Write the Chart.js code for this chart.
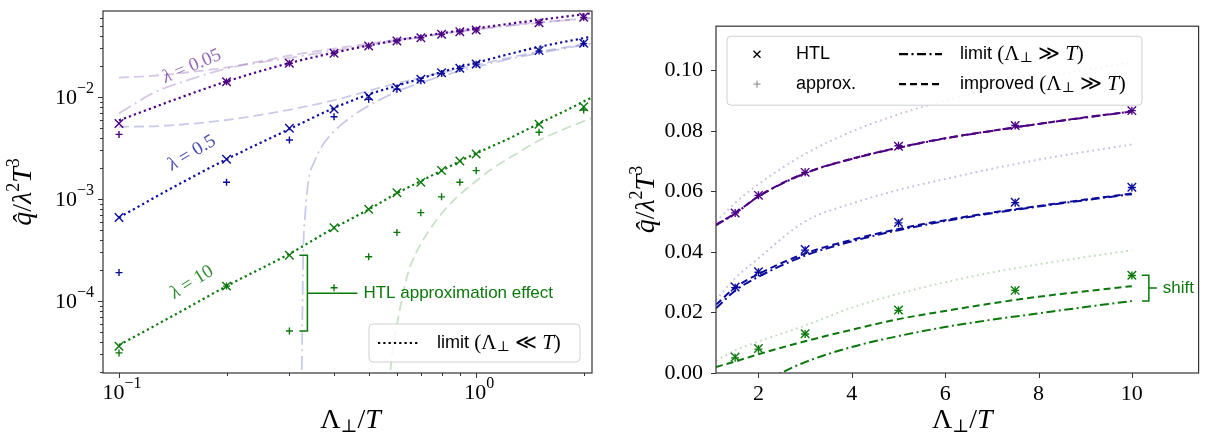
<!DOCTYPE html>
<html lang="en">
<head>
  <meta charset="UTF-8">
  <title>q-hat / lambda^2 T^3 vs cutoff</title>
  <script src="https://cdn.jsdelivr.net/npm/chart.js"></script>
  <style>
    body { margin: 0; background: #fff; }
    .wrap { position: relative; width: 1206px; height: 439px; overflow: hidden; }
    canvas { position: absolute; top: 0; }
    #left { left: 0; }
    #right { left: 600px; }
  </style>
</head>
<body>
  <div class="wrap">
    <canvas id="left" width="600" height="439"></canvas>
    <canvas id="right" width="606" height="439"></canvas>
  </div>

  <script>
    // ---- left panel: small cutoff, log-log ----
    const lowX = [0.1, 0.2, 0.3, 0.4, 0.5, 0.6, 0.7, 0.8, 0.9, 1.0, 1.5, 2.0];
    const lowHtl005 = [0.0055, 0.0141, 0.0214, 0.0268, 0.0316, 0.0354, 0.0381, 0.0412, 0.0437, 0.0454, 0.0535, 0.0604];
    const lowApprox005 = [0.0043, 0.0141, 0.0214, 0.0268, 0.0316, 0.0354, 0.0381, 0.0412, 0.0437, 0.0454, 0.0535, 0.0604];
    const lowHtl05 = [0.00066, 0.00245, 0.00493, 0.00763, 0.0102, 0.0124, 0.0149, 0.0173, 0.0191, 0.0211, 0.0285, 0.0336];
    const lowApprox05 = [0.00019, 0.00146, 0.00379, 0.00641, 0.00949, 0.0119, 0.0144, 0.0170, 0.0190, 0.0210, 0.0283, 0.0334];
    const lowHtl10 = [3.6e-5, 1.40e-4, 2.81e-4, 5.24e-4, 7.93e-4, 1.15e-3, 1.46e-3, 1.90e-3, 2.36e-3, 2.76e-3, 5.40e-3, 8.04e-3];
    const lowApprox10 = [3.1e-5, 1.40e-4, 5.08e-5, 1.35e-4, 2.72e-4, 4.71e-4, 7.35e-4, 1.05e-3, 1.46e-3, 1.90e-3, 4.51e-3, 7.46e-3];

    // limit Λ⊥ << T (dotted)
    const smallX = [0.1, 0.15, 0.2, 0.3, 0.4, 0.5, 0.6, 0.7, 0.8, 0.9, 1.0, 1.25, 1.5, 1.8, 2.1];
    const small005 = [0.0059, 0.0100, 0.0142, 0.0215, 0.0272, 0.0320, 0.0360, 0.0392, 0.0422, 0.0448, 0.0471, 0.0525, 0.0569, 0.0618, 0.0662];
    const small05 = [0.00066, 0.00145, 0.00245, 0.00485, 0.0078, 0.0106, 0.0129, 0.0152, 0.0176, 0.0197, 0.0217, 0.0266, 0.0310, 0.0352, 0.0390];
    const small10 = [3.7e-5, 8.0e-5, 1.40e-4, 2.9e-4, 5.2e-4, 7.9e-4, 1.14e-3, 1.5e-3, 1.9e-3, 2.35e-3, 2.8e-3, 4.0e-3, 5.5e-3, 7.5e-3, 9.85e-3];

    // faint continuation of the Λ⊥ >> T curves
    const farImpX005 = [0.1, 0.12, 0.15, 0.2, 0.25, 0.3, 0.4, 0.5, 0.7, 1.0, 1.5, 2.1];
    const farImp005 = [0.0155, 0.0160, 0.0172, 0.0195, 0.0225, 0.0255, 0.0298, 0.0334, 0.0393, 0.0465, 0.0540, 0.0595];
    const farLimX005 = [0.1, 0.11, 0.125, 0.15, 0.2, 0.3, 0.4, 0.5, 0.7, 1.0, 1.5, 2.1];
    const farLim005 = [0.0069, 0.0085, 0.0110, 0.0140, 0.0190, 0.0242, 0.0285, 0.0322, 0.0385, 0.0458, 0.0535, 0.0592];
    const farImpX05 = [0.1, 0.13, 0.2, 0.3, 0.4, 0.5, 0.6, 0.8, 1.0, 1.5, 2.1];
    const farImp05 = [0.0051, 0.0052, 0.00595, 0.0075, 0.0093, 0.0115, 0.0136, 0.0173, 0.0206, 0.0278, 0.0336];
    const farLimX05 = [0.3245, 0.326, 0.328, 0.332, 0.34, 0.35, 0.37, 0.40, 0.45, 0.5, 0.6, 0.7, 0.8, 1.0, 1.3, 1.6, 2.1];
    const farLim05 = [1.2e-5, 6e-5, 3e-4, 7e-4, 1.6e-3, 2.2e-3, 3.3e-3, 4.6e-3, 6.5e-3, 8.2e-3, 0.0113, 0.0138, 0.0160, 0.0197, 0.0244, 0.0281, 0.0333];
    const farImpX10 = [0.573, 0.578, 0.585, 0.594, 0.61, 0.64, 0.68, 0.73, 0.8, 0.885, 1.0, 1.09, 1.3, 1.51, 1.8, 2.1];
    const farImp10 = [1.5e-5, 2.5e-5, 3.5e-5, 4.8e-5, 8e-5, 1.73e-4, 3.0e-4, 4.6e-4, 7.2e-4, 1.05e-3, 1.5e-3, 1.9e-3, 2.8e-3, 3.8e-3, 5.0e-3, 6.2e-3];

    // ---- right panel: large cutoff, linear ----
    const highX = [1.5, 2, 3, 5, 7.5, 10];
    const highHtl005 = [0.0529, 0.0587, 0.0663, 0.0749, 0.0818, 0.0867];
    const highApprox005 = [0.0529, 0.0587, 0.0663, 0.0751, 0.0818, 0.0867];
    const highHtl05 = [0.0284, 0.0335, 0.0408, 0.0497, 0.0564, 0.0614];
    const highApprox05 = [0.0282, 0.0333, 0.0406, 0.0496, 0.0563, 0.0613];
    const highHtl10 = [0.0053, 0.0081, 0.0130, 0.0208, 0.0273, 0.0323];
    const highApprox10 = [0.0050, 0.0079, 0.0129, 0.0207, 0.0273, 0.0322];

    const curveX = [1.09, 1.5, 2, 3, 4, 5, 6, 7, 8, 9, 10];
    const improved005 = [0.0490, 0.0528, 0.0584, 0.0661, 0.0708, 0.0745, 0.0776, 0.0800, 0.0823, 0.0845, 0.0864];
    const limit005 = [0.0488, 0.0527, 0.0583, 0.0660, 0.0707, 0.0744, 0.0775, 0.0800, 0.0823, 0.0844, 0.0864];
    const improved05 = [0.0226, 0.0282, 0.0327, 0.0395, 0.0440, 0.0476, 0.0505, 0.0530, 0.0552, 0.0573, 0.0593];
    const limit05 = [0.0214, 0.0272, 0.0318, 0.0388, 0.0435, 0.0472, 0.0502, 0.0528, 0.0550, 0.0571, 0.0591];
    const improved10 = [0.0020, 0.0038, 0.0062, 0.0105, 0.0143, 0.0178, 0.0205, 0.0230, 0.0252, 0.0270, 0.0287];
    const limit10X = [2.2, 2.48, 3, 4, 5, 6, 7, 8, 9, 10];
    const limit10 = [-0.0021, 0, 0.0036, 0.0086, 0.0122, 0.0152, 0.0176, 0.0197, 0.0218, 0.0238];
    const dotted005 = [0.0500, 0.0562, 0.0624, 0.0724, 0.0798, 0.0855, 0.0900, 0.0940, 0.0973, 0.1001, 0.1027];
    const dotted05 = [0.0241, 0.0313, 0.0379, 0.0501, 0.0560, 0.0605, 0.0641, 0.0675, 0.0705, 0.0731, 0.0755];
    const dotted10 = [0.0040, 0.0075, 0.0104, 0.0157, 0.0216, 0.0262, 0.0300, 0.0332, 0.0359, 0.0383, 0.0405];

    const lowXTicks = [0.1, 1];
    const lowYTicks = [1e-4, 1e-3, 1e-2];
    const highXTicks = [2, 4, 6, 8, 10];
    const highYTicks = [0, 0.02, 0.04, 0.06, 0.08, 0.10];

    const SERIF = '"Liberation Serif", "DejaVu Serif", serif';
    const SANS = '"Liberation Sans", "DejaVu Sans", sans-serif';
    const PURPLE = '#4b0082', BLUE = '#0c0c9a', GREEN = '#0b780b';
    const fade = (hex, a) => {
      const n = parseInt(hex.slice(1), 16);
      return `rgba(${n >> 16},${(n >> 8) & 255},${n & 255},${a})`;
    };

    const DOT = [2.2, 3.1], DASH = [7, 4], DASHDOT = [9, 3.5, 2, 3.5];
    const FAR_DASH = [10, 5], FAR_DASHDOT = [14, 4.5, 2, 4.5], FAINT_DOT = [1.8, 3.6];

    const pts = (xs, ys) => xs.map((x, i) => ({ x, y: ys[i] }));

    function curve(xs, ys, color, dash, width) {
      return {
        data: pts(xs, ys), showLine: true, pointRadius: 0, pointHoverRadius: 0,
        borderColor: color, borderWidth: width, borderDash: dash, borderCapStyle: 'butt',
        cubicInterpolationMode: 'monotone'
      };
    }
    function marks(xs, ys, color, style, r) {
      return {
        data: pts(xs, ys), showLine: false, pointStyle: style, pointRadius: r, pointHoverRadius: r,
        pointBorderColor: color, pointBackgroundColor: color, pointBorderWidth: 1.4, borderColor: color
      };
    }

    // draw a row of text pieces (for the little bits of math)
    function runs(ctx, parts, x, y, align) {
      let w = 0;
      parts.forEach(p => { ctx.font = p.font; p.w = ctx.measureText(p.t).width; w += p.w; });
      let cx = align === 'center' ? x - w / 2 : align === 'right' ? x - w : x;
      ctx.textAlign = 'left';
      ctx.textBaseline = 'middle';
      parts.forEach(p => { ctx.font = p.font; ctx.fillText(p.t, cx, y + (p.dy || 0)); cx += p.w; });
    }

    const xTitle = () => [
      { t: 'Λ', font: `28px ${SERIF}` },
      { t: '⊥', font: `18px ${SERIF}`, dy: 6 },
      { t: '/', font: `28px ${SERIF}` },
      { t: 'T', font: `italic 28px ${SERIF}` }
    ];
    const yTitle = () => [
      { t: 'q\u0302', font: `italic 28px ${SERIF}` },
      { t: '/', font: `28px ${SERIF}` },
      { t: 'λ', font: `italic 28px ${SERIF}` },
      { t: '2', font: `18px ${SERIF}`, dy: -10 },
      { t: 'T', font: `italic 28px ${SERIF}` },
      { t: '3', font: `18px ${SERIF}`, dy: -10 }
    ];
    const mathTail = rel => [
      { t: ' (Λ', font: `21px ${SERIF}` },
      { t: '⊥', font: `14px ${SERIF}`, dy: 4 },
      { t: ' ' + rel + ' ', font: `21px ${SERIF}` },
      { t: 'T', font: `italic 21px ${SERIF}` },
      { t: ')', font: `21px ${SERIF}` }
    ];
    const powLabel = v => {
      const e = Math.round(Math.log10(v));
      return [{ t: '10', font: `22px ${SERIF}` }, { t: (e < 0 ? '−' : '') + Math.abs(e), font: `16px ${SERIF}`, dy: -9 }];
    };

    function frame(ctx, a) {
      ctx.save();
      ctx.strokeStyle = '#333';
      ctx.lineWidth = 1.2;
      ctx.strokeRect(a.left, a.top, a.right - a.left, a.bottom - a.top);
      ctx.restore();
    }
    function tickMark(ctx, scale, a, v, len) {
      const p = Math.round(scale.getPixelForValue(v)) + 0.5;
      ctx.beginPath();
      if (scale.isHorizontal()) { ctx.moveTo(p, a.bottom); ctx.lineTo(p, a.bottom + len); }
      else { ctx.moveTo(a.left, p); ctx.lineTo(a.left - len, p); }
      ctx.stroke();
    }
    function logTicks(ctx, scale, a) {
      ctx.save();
      ctx.strokeStyle = '#333';
      ctx.lineWidth = 1;
      const lo = Math.floor(Math.log10(scale.min)), hi = Math.ceil(Math.log10(scale.max));
      for (let d = lo; d <= hi; d++) {
        for (let m = 1; m < 10; m++) {
          const v = m * Math.pow(10, d);
          if (v < scale.min || v > scale.max) continue;
          tickMark(ctx, scale, a, v, m === 1 ? 5 : 3);
        }
      }
      ctx.restore();
    }
    function legendBox(ctx, x, y, w, h) {
      ctx.save();
      ctx.beginPath();
      ctx.roundRect(x, y, w, h, 4);
      ctx.fillStyle = 'rgba(255,255,255,0.8)';
      ctx.fill();
      ctx.strokeStyle = '#d0d0d0';
      ctx.lineWidth = 1;
      ctx.stroke();
      ctx.restore();
    }
    function sample(ctx, x0, x1, y, dash, color, width) {
      ctx.save();
      ctx.strokeStyle = color;
      ctx.lineWidth = width;
      ctx.setLineDash(dash);
      ctx.beginPath(); ctx.moveTo(x0, y); ctx.lineTo(x1, y); ctx.stroke();
      ctx.restore();
    }
    function bracket(ctx, xa, xb, top, bottom, xc, color) {
      ctx.save();
      ctx.strokeStyle = color;
      ctx.lineWidth = 1.5;
      const mid = (top + bottom) / 2;
      ctx.beginPath();
      ctx.moveTo(xa, top); ctx.lineTo(xb, top); ctx.lineTo(xb, bottom); ctx.lineTo(xa, bottom);
      ctx.moveTo(xb, mid); ctx.lineTo(xc, mid);
      ctx.stroke();
      ctx.restore();
      return mid;
    }

    const leftDecor = {
      id: 'leftDecor',
      afterDatasetsDraw(chart) {
        const { ctx, chartArea: a, scales: { x, y } } = chart;
        frame(ctx, a);
        logTicks(ctx, x, a);
        logTicks(ctx, y, a);
        ctx.save();
        ctx.fillStyle = '#000';
        lowXTicks.forEach(v => runs(ctx, powLabel(v), x.getPixelForValue(v) + 3, a.bottom + 20, 'center'));
        lowYTicks.forEach(v => runs(ctx, powLabel(v), a.left - 9, y.getPixelForValue(v) + 1, 'right'));
        runs(ctx, xTitle(), (a.left + a.right) / 2 + 3, 421, 'center');
        ctx.translate(24, (a.top + a.bottom) / 2);
        ctx.rotate(-Math.PI / 2);
        runs(ctx, yTitle(), 0, 0, 'center');
        ctx.restore();

        // coupling labels along the dotted lines
        [
          { t: '0.05', color: fade(PURPLE, 0.6), x: 0.160, y: 0.0200, rot: -23 },
          { t: '0.5', color: fade(BLUE, 0.75), x: 0.160, y: 0.00283, rot: -31 },
          { t: '10', color: fade(GREEN, 0.85), x: 0.160, y: 1.53e-4, rot: -32 }
        ].forEach(l => {
          ctx.save();
          ctx.fillStyle = l.color;
          ctx.translate(x.getPixelForValue(l.x), y.getPixelForValue(l.y));
          ctx.rotate(l.rot * Math.PI / 180);
          runs(ctx, [{ t: 'λ', font: `italic 19px ${SERIF}` }, { t: ' = ' + l.t, font: `19px ${SERIF}` }], 0, 0, 'center');
          ctx.restore();
        });

        // HTL approximation bracket at Λ⊥/T = 0.3
        const px = x.getPixelForValue(lowX[2]);
        const mid = bracket(ctx, px + 10, px + 18, y.getPixelForValue(lowHtl10[2]), y.getPixelForValue(lowApprox10[2]), px + 68, GREEN);
        ctx.save();
        ctx.fillStyle = GREEN;
        runs(ctx, [{ t: 'HTL approximation effect', font: `17px ${SANS}` }], px + 74, mid, 'left');
        ctx.restore();

        // legend
        const lx = a.right - 223, ly = a.bottom - 49;
        legendBox(ctx, lx, ly, 211, 38);
        sample(ctx, lx + 9, lx + 50, ly + 19, DOT, '#000', 2.2);
        ctx.save();
        ctx.fillStyle = '#000';
        runs(ctx, [{ t: 'limit', font: `18px ${SANS}` }, ...mathTail('≪')], lx + 68, ly + 19, 'left');
        ctx.restore();
      }
    };

    const rightDecor = {
      id: 'rightDecor',
      afterDatasetsDraw(chart) {
        const { ctx, chartArea: a, scales: { x, y } } = chart;
        frame(ctx, a);
        ctx.save();
        ctx.strokeStyle = '#333';
        ctx.lineWidth = 1;
        highXTicks.forEach(v => tickMark(ctx, x, a, v, 5));
        highYTicks.forEach(v => tickMark(ctx, y, a, v, 5));
        ctx.fillStyle = '#000';
        runs(ctx, xTitle(), (a.left + a.right) / 2 + 5, 421, 'center');
        ctx.translate(47, (a.top + a.bottom) / 2);
        ctx.rotate(-Math.PI / 2);
        runs(ctx, yTitle(), 0, 0, 'center');
        ctx.restore();

        // shift bracket at Λ⊥/T = 10
        const px = x.getPixelForValue(highX[5]);
        const mid = bracket(ctx, px + 10, px + 17, y.getPixelForValue(highHtl10[5]), y.getPixelForValue(limit10[limit10.length - 1]), px + 25, GREEN);
        ctx.save();
        ctx.fillStyle = GREEN;
        runs(ctx, [{ t: 'shift', font: `17px ${SANS}` }], px + 31, mid, 'left');
        ctx.restore();

        // legend, two columns
        const lx = a.left + 11, ly = a.top + 10;
        legendBox(ctx, lx, ly, 415, 69);
        const r1 = ly + 18, r2 = ly + 48, mx = lx + 30;
        ctx.save();
        ctx.lineWidth = 1.3;
        ctx.strokeStyle = '#000';
        ctx.beginPath();
        ctx.moveTo(mx - 3.5, r1 - 3.5); ctx.lineTo(mx + 3.5, r1 + 3.5);
        ctx.moveTo(mx + 3.5, r1 - 3.5); ctx.lineTo(mx - 3.5, r1 + 3.5);
        ctx.stroke();
        ctx.strokeStyle = '#999';
        ctx.beginPath();
        ctx.moveTo(mx - 3.5, r2); ctx.lineTo(mx + 3.5, r2);
        ctx.moveTo(mx, r2 - 3.5); ctx.lineTo(mx, r2 + 3.5);
        ctx.stroke();
        ctx.fillStyle = '#000';
        runs(ctx, [{ t: 'HTL', font: `18px ${SANS}` }], lx + 69, r1, 'left');
        runs(ctx, [{ t: 'approx.', font: `18px ${SANS}` }], lx + 69, r2, 'left');
        runs(ctx, [{ t: 'limit', font: `18px ${SANS}` }, ...mathTail('≫')], lx + 233, r1, 'left');
        runs(ctx, [{ t: 'improved', font: `18px ${SANS}` }, ...mathTail('≫')], lx + 233, r2, 'left');
        ctx.restore();
        sample(ctx, lx + 172, lx + 215, r1, DASHDOT, '#000', 2.2);
        sample(ctx, lx + 172, lx + 215, r2, DASH, '#000', 2.2);
      }
    };

    const noAxisDraw = { display: false, drawTicks: false };

    new Chart(document.getElementById('left'), {
      type: 'scatter',
      data: {
        datasets: [
          curve(farImpX005, farImp005, fade(PURPLE, 0.22), FAR_DASH, 1.8),
          curve(farLimX005, farLim005, fade(PURPLE, 0.22), FAR_DASHDOT, 1.8),
          curve(farImpX05, farImp05, fade(BLUE, 0.22), FAR_DASH, 1.8),
          curve(farLimX05, farLim05, fade(BLUE, 0.22), FAR_DASHDOT, 1.8),
          curve(farImpX10, farImp10, fade(GREEN, 0.22), FAR_DASH, 1.8),
          curve(smallX, small005, PURPLE, DOT, 2.2),
          curve(smallX, small05, BLUE, DOT, 2.2),
          curve(smallX, small10, GREEN, DOT, 2.2),
          marks(lowX, lowHtl005, PURPLE, 'crossRot', 6),
          marks(lowX, lowApprox005, PURPLE, 'cross', 3.5),
          marks(lowX, lowHtl05, BLUE, 'crossRot', 6),
          marks(lowX, lowApprox05, BLUE, 'cross', 3.5),
          marks(lowX, lowHtl10, GREEN, 'crossRot', 6),
          marks(lowX, lowApprox10, GREEN, 'cross', 3.5)
        ]
      },
      options: {
        responsive: false,
        animation: false,
        events: [],
        layout: { padding: { left: 0, right: 8, top: 11, bottom: 0 } },
        plugins: { legend: { display: false }, tooltip: { enabled: false } },
        scales: {
          x: {
            type: 'logarithmic', min: 0.0902, max: 2.11,
            grid: noAxisDraw, border: { display: false },
            ticks: { display: false },
            afterBuildTicks: s => { s.ticks = lowXTicks.map(v => ({ value: v })); },
            afterFit: s => { s.height = 66; }
          },
          y: {
            type: 'logarithmic', min: 1.97e-5, max: 0.0697,
            grid: noAxisDraw, border: { display: false },
            ticks: { display: false },
            afterBuildTicks: s => { s.ticks = lowYTicks.map(v => ({ value: v })); },
            afterFit: s => { s.width = 103; }
          }
        }
      },
      plugins: [leftDecor]
    });

    new Chart(document.getElementById('right'), {
      type: 'scatter',
      data: {
        datasets: [
          curve(curveX, dotted005, fade(PURPLE, 0.25), FAINT_DOT, 2),
          curve(curveX, dotted05, fade(BLUE, 0.25), FAINT_DOT, 2),
          curve(curveX, dotted10, fade(GREEN, 0.25), FAINT_DOT, 2),
          curve(curveX, limit005, PURPLE, DASHDOT, 2),
          curve(curveX, improved005, PURPLE, DASH, 2),
          curve(curveX, limit05, BLUE, DASHDOT, 2),
          curve(curveX, improved05, BLUE, DASH, 2),
          curve(limit10X, limit10, GREEN, DASHDOT, 2),
          curve(curveX, improved10, GREEN, DASH, 2),
          marks(highX, highHtl005, PURPLE, 'crossRot', 6),
          marks(highX, highApprox005, PURPLE, 'cross', 4),
          marks(highX, highHtl05, BLUE, 'crossRot', 6),
          marks(highX, highApprox05, BLUE, 'cross', 4),
          marks(highX, highHtl10, GREEN, 'crossRot', 6),
          marks(highX, highApprox10, GREEN, 'cross', 4)
        ]
      },
      options: {
        responsive: false,
        animation: false,
        events: [],
        layout: { padding: { left: 0, right: 1, top: 12, bottom: 0 } },
        plugins: { legend: { display: false }, tooltip: { enabled: false } },
        scales: {
          x: {
            type: 'linear', min: 1.09, max: 11.43,
            grid: noAxisDraw, border: { display: false },
            ticks: { padding: 8, color: '#000', font: { family: SERIF, size: 22 }, maxRotation: 0, callback: v => String(v) },
            afterBuildTicks: s => { s.ticks = highXTicks.map(v => ({ value: v })); },
            afterFit: s => { s.height = 66; }
          },
          y: {
            type: 'linear', min: 0, max: 0.1146,
            grid: noAxisDraw, border: { display: false },
            ticks: { padding: 13, color: '#000', font: { family: SERIF, size: 22 }, callback: v => v.toFixed(2) },
            afterBuildTicks: s => { s.ticks = highYTicks.map(v => ({ value: v })); },
            afterFit: s => { s.width = 116; }
          }
        }
      },
      plugins: [rightDecor]
    });
  </script>
</body>
</html>
